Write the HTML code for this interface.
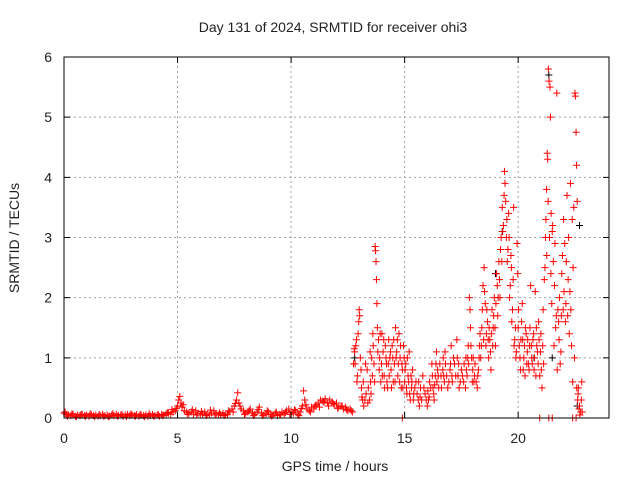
<!DOCTYPE html>
<html><head><meta charset="utf-8"><style>
body{margin:0;background:#fff;}
svg{display:block;font-family:"Liberation Sans",sans-serif;}
</style></head><body>
<svg id="chart" width="640" height="480" xmlns="http://www.w3.org/2000/svg">
<rect width="640" height="480" fill="#fff"/>
<g id="grid"></g>
<g id="marks"></g>
<g id="axes"></g>
<text x="333" y="32" font-size="14" text-anchor="middle" fill="#222">Day 131 of 2024, SRMTID for receiver ohi3</text>
<text x="335" y="471" font-size="14" text-anchor="middle" fill="#222">GPS time / hours</text>
<text transform="translate(19,238) rotate(-90)" font-size="14" text-anchor="middle" fill="#222">SRMTID / TECUs</text>
</svg>
<script>
const xTicks=[0,5,10,15,20];
const yTicks=[0,1,2,3,4,5,6];
const redTimes=[0.0,0.05,0.1,0.2,0.3,0.4,0.5,0.6,0.7,0.8,0.9,1.0,1.1,1.2,1.3,1.4,1.5,1.6,1.7,1.8,1.9,2.0,2.1,2.2,2.3,2.4,2.5,2.6,2.7,2.8,2.9,3.0,3.1,3.2,3.3,3.4,3.5,3.6,3.7,3.8,3.9,4.0,4.1,4.2,4.3,4.4,4.5,4.6,4.7,4.8,4.9,5.0,5.05,5.1,5.15,5.2,5.3,5.4,5.5,5.6,5.7,5.8,5.9,6.0,6.1,6.2,6.3,6.4,6.5,6.6,6.7,6.8,6.9,7.0,7.1,7.2,7.3,7.4,7.5,7.6,7.65,7.7,7.8,7.9,8.0,8.1,8.2,8.3,8.4,8.5,8.6,8.7,8.8,8.9,9.0,9.1,9.2,9.3,9.4,9.5,9.6,9.7,9.8,9.9,10.0,10.1,10.2,10.3,10.4,10.5,10.55,10.6,10.7,10.8,10.9,11.0,11.1,11.2,11.3,11.4,11.5,11.6,11.7,11.8,11.9,12.0,12.1,12.2,12.3,12.4,12.5,12.6,12.7,
12.8,12.82,12.85,12.9,12.95,13.0,13.02,13.05,13.1,13.15,13.2,13.3,13.35,13.4,13.45,13.5,13.55,13.6,13.65,13.7,13.72,13.74,13.76,13.78,13.8,13.85,13.9,13.95,14.0,14.05,14.1,14.15,14.2,14.25,14.3,14.35,14.4,14.45,14.5,14.55,14.6,14.65,14.7,14.75,14.8,14.85,14.9,14.95,15.0,15.05,15.1,15.15,15.2,15.25,15.3,15.35,15.4,15.5,15.6,15.65,15.7,15.8,15.9,16.0,16.05,16.1,16.2,16.25,16.3,16.35,16.4,16.45,16.5,16.6,16.7,16.75,16.8,16.9,17.0,17.05,17.1,17.2,17.3,17.35,17.4,17.5,17.6,17.7,17.75,17.8,17.85,17.88,17.9,17.95,18.0,18.05,18.1,18.2,18.25,18.3,18.35,18.4,18.45,18.5,18.55,18.6,18.65,18.7,18.75,18.8,18.85,18.9,18.95,19.0,19.05,19.1,19.15,19.2,19.25,19.3,19.35,19.4,19.42,19.45,19.5,19.55,19.6,19.65,19.7,19.75,19.8,19.85,19.9,19.95,20.0,20.05,20.1,20.15,20.2,20.25,20.3,20.35,20.4,20.45,20.5,20.55,20.6,20.65,20.7,20.75,20.8,20.85,20.9,20.95,21.0,21.05,21.1,21.15,21.2,21.25,21.28,21.3,21.33,21.36,21.4,21.42,21.45,21.5,21.55,21.6,21.65,21.7,21.75,21.8,21.85,21.9,21.95,22.0,22.05,22.1,22.15,22.2,22.25,22.3,22.35,22.4,22.45,22.5,22.52,22.55,22.57,22.6,22.62,22.65,22.7,22.75,22.8,22.72,20.95,21.35,21.5,22.4,22.55,14.9];
const redValues=[0.08,0.1,0.06,0.05,0.04,0.06,0.03,0.05,0.04,0.06,0.04,0.05,0.03,0.06,0.04,0.05,0.03,0.04,0.06,0.04,0.05,0.03,0.05,0.04,0.06,0.04,0.05,0.03,0.05,0.06,0.04,0.05,0.04,0.06,0.03,0.05,0.04,0.05,0.03,0.04,0.06,0.04,0.05,0.03,0.06,0.05,0.07,0.08,0.06,0.1,0.12,0.2,0.3,0.36,0.25,0.18,0.12,0.1,0.08,0.1,0.06,0.12,0.08,0.05,0.07,0.1,0.06,0.05,0.08,0.12,0.07,0.05,0.06,0.08,0.05,0.06,0.1,0.15,0.2,0.3,0.42,0.25,0.15,0.12,0.08,0.1,0.15,0.08,0.06,0.1,0.18,0.08,0.05,0.07,0.1,0.06,0.05,0.08,0.04,0.06,0.1,0.07,0.12,0.15,0.1,0.08,0.12,0.06,0.1,0.2,0.45,0.3,0.15,0.12,0.18,0.15,0.22,0.25,0.3,0.28,0.32,0.25,0.3,0.27,0.22,0.25,0.18,0.2,0.15,0.18,0.12,0.15,0.1,
1.1,0.9,1.2,0.6,1.4,1.8,1.7,1.0,0.5,0.3,0.2,0.4,0.8,0.5,0.3,0.6,1.0,1.4,0.9,2.85,2.78,2.6,2.3,1.9,1.5,1.3,1.0,0.6,1.4,1.1,0.7,1.2,0.9,0.5,1.3,1.0,0.8,1.2,0.6,0.9,1.5,1.1,0.7,1.4,1.0,0.5,0.8,1.2,0.6,0.9,0.4,0.7,1.1,0.3,0.5,0.8,0.4,0.6,0.3,0.2,0.5,0.7,0.4,0.2,0.3,0.6,0.9,0.5,0.3,0.7,1.1,0.8,0.5,0.7,1.0,0.6,0.9,0.5,0.8,1.2,0.6,0.9,1.3,0.7,0.5,0.8,0.6,1.0,0.7,1.2,2.0,1.8,1.5,1.0,0.8,0.6,0.9,0.5,0.8,1.2,1.0,1.5,2.2,2.5,1.9,1.4,1.6,1.0,1.3,0.8,1.8,1.5,2.0,1.2,2.4,1.7,2.6,2.0,3.0,3.5,3.2,4.1,3.9,3.6,3.3,2.8,3.0,2.2,2.5,1.8,3.5,1.3,1.0,2.9,1.5,1.2,0.8,1.6,1.3,1.0,0.7,1.4,1.1,0.9,1.2,2.2,1.0,1.3,0.8,2.1,1.5,1.1,1.6,0.7,1.4,0.5,1.8,2.3,3.0,3.8,4.4,4.3,5.8,5.6,5.5,5.0,3.4,3.1,2.6,2.2,1.5,5.4,1.8,1.3,0.9,1.7,2.7,3.3,2.9,1.9,3.7,2.3,1.4,3.9,1.2,0.6,3.5,5.4,5.35,4.75,4.2,3.6,0.3,0.5,0.2,0.1,0.6,0.05,0,0,0,0,0,0];
const redTimes2=[12.75,12.78,12.88,12.92,12.98,13.08,13.12,13.18,13.25,13.28,13.38,13.48,13.52,13.58,13.62,13.68,13.82,13.88,13.92,13.98,14.02,14.08,14.12,14.18,14.22,14.28,14.32,14.38,14.42,14.48,14.52,14.58,14.62,14.68,14.72,14.78,14.82,14.88,14.92,14.98,15.02,15.08,15.12,15.18,15.22,15.28,15.32,15.38,15.45,15.55,15.62,15.68,15.75,15.85,15.95,16.02,16.08,16.15,16.22,16.28,16.32,16.38,16.42,16.48,16.55,16.62,16.68,16.72,16.78,16.85,16.95,17.02,17.08,17.15,17.25,17.32,17.38,17.45,17.55,17.62,17.68,17.72,17.78,17.82,17.92,17.98,18.02,18.08,18.15,18.22,18.28,18.32,18.38,18.42,18.48,18.52,18.58,18.62,18.68,18.72,18.78,18.82,18.88,18.92,18.98,19.02,19.08,19.12,19.18,19.22,19.28,19.32,19.38,19.48,19.52,19.58,19.62,19.68,19.72,19.78,19.82,19.88,19.92,19.98,20.02,20.08,20.12,20.18,20.22,20.28,20.32,20.38,20.42,20.48,20.52,20.58,20.62,20.68,20.72,20.78,20.82,20.88,20.92,20.98,21.02,21.08,21.12,21.18,21.22,21.26,21.32,21.38,21.44,21.48,21.52,21.58,21.62,21.68,21.72,21.78,21.82,21.88,21.92,21.98,22.02,22.08,22.12,22.18,22.22,22.28,22.32,22.38,22.42,22.48,22.58,22.64,22.68,22.78,22.82];
const redValues2=[0.9,1.15,1.3,0.7,1.6,0.8,0.35,0.6,0.3,0.9,0.25,1.1,0.4,0.7,1.2,0.6,1.1,0.8,1.4,0.9,0.7,1.3,0.5,1.0,0.6,0.9,0.7,1.1,0.5,1.0,1.3,0.6,1.0,1.3,0.9,0.6,1.2,0.9,0.5,1.0,0.8,0.5,1.0,0.6,0.4,0.7,0.6,0.3,0.5,0.4,0.6,0.35,0.3,0.5,0.3,0.45,0.35,0.5,0.7,0.4,0.55,0.9,0.6,0.7,0.9,0.5,0.8,0.7,1.1,0.7,0.6,0.9,0.7,1.0,0.7,1.0,0.9,0.6,0.7,0.9,0.5,0.8,1.0,0.9,1.2,0.6,1.0,0.7,0.6,0.7,1.0,1.4,1.2,1.8,1.3,2.1,1.2,1.8,1.3,1.5,1.1,1.4,1.2,1.7,1.5,1.9,2.2,2.0,2.3,2.8,2.6,3.1,3.7,3.0,2.6,3.4,2.0,2.7,1.6,2.3,1.2,1.5,1.1,2.4,1.8,1.0,1.3,1.9,0.8,1.2,1.5,0.9,1.3,0.8,1.5,1.2,0.9,1.4,1.0,0.7,1.2,0.9,1.3,1.1,0.8,1.2,0.9,2.5,3.3,2.7,3.6,3.0,2.4,1.9,3.2,1.2,2.9,1.7,0.8,1.6,2.0,1.1,2.4,1.8,2.1,1.6,2.6,1.7,3.0,2.1,1.8,3.3,2.5,1.0,0.5,0.4,0.15,0.3,0.1];
const baseTimes2=[0.15,0.35,0.55,0.75,0.95,1.15,1.35,1.55,1.75,1.95,2.15,2.35,2.55,2.75,2.95,3.15,3.35,3.55,3.75,3.95,4.15,4.35,4.55,4.75,4.95,5.25,5.45,5.65,5.85,6.05,6.25,6.45,6.65,6.85,7.05,7.25,7.45,7.55,7.75,7.95,8.15,8.35,8.55,8.75,8.95,9.15,9.35,9.55,9.75,9.95,10.15,10.35,10.45,10.65,10.85,11.05,11.25,11.45,11.65,11.85,12.05,12.25,12.45,12.65];
const baseValues2=[0.03,0.07,0.02,0.06,0.03,0.07,0.02,0.06,0.03,0.02,0.07,0.03,0.06,0.02,0.07,0.03,0.06,0.02,0.07,0.03,0.06,0.04,0.09,0.14,0.16,0.22,0.06,0.14,0.05,0.11,0.04,0.13,0.05,0.09,0.04,0.12,0.1,0.24,0.2,0.06,0.12,0.04,0.14,0.04,0.12,0.03,0.1,0.05,0.09,0.06,0.14,0.04,0.16,0.22,0.1,0.2,0.18,0.26,0.2,0.24,0.16,0.2,0.14,0.12];
const blackTimes=[21.35,22.7,19.0,20.7,12.8,22.6,21.5,19.3];
const blackValues=[5.7,3.2,2.4,1.0,1.0,0.2,1.0,3.1];
const X0=64,X1=609,Y0=418,Y1=57,XMAX=24,YMAX=6;
const sx=t=>X0+t/XMAX*(X1-X0);
const sy=v=>Y0-v/YMAX*(Y0-Y1);
const NS='http://www.w3.org/2000/svg';
function mk(tag,parent,attrs){const e=document.createElementNS(NS,tag);for(const k in attrs)e.setAttribute(k,attrs[k]);parent.appendChild(e);return e;}
const grid=document.getElementById('grid'),axes=document.getElementById('axes'),marks=document.getElementById('marks');
xTicks.forEach(t=>{const x=sx(t);
 if(t>0){const g=mk('line',grid,{x1:x,x2:x,y1:Y0,y2:Y1,stroke:'#a0a0a0','stroke-dasharray':'2,3','stroke-width':1});
 
 }
 const tk=mk('path',axes,{d:`M${x},${Y0}v-6M${x},${Y1}v6`,stroke:'#000','stroke-width':1});
 
 
 const l=mk('text',axes,{x:x,y:443,'font-size':14,'text-anchor':'middle',fill:'#222'});l.textContent=t;
 
 
});
yTicks.forEach(v=>{const y=sy(v);
 if(v>0&&v<6){const g=mk('line',grid,{x1:X0,x2:X1,y1:y,y2:y,stroke:'#a0a0a0','stroke-dasharray':'2,3','stroke-width':1});
 
 }
 const tk=mk('path',axes,{d:`M${X0},${y}h6M${X1},${y}h-6`,stroke:'#000','stroke-width':1});
 
 
 const l=mk('text',axes,{x:52,y:y+5,'font-size':14,'text-anchor':'end',fill:'#222'});l.textContent=v;
 
 
});
const fr=mk('rect',axes,{x:X0,y:Y1,width:X1-X0,height:Y0-Y1,fill:'none',stroke:'#000','stroke-width':1});


function plus(t,v,c,name){const x=sx(t),y=sy(v);
 const p=mk('path',marks,{d:`M${x-3.5},${y}h7M${x},${y-3.5}v7`,stroke:c,'stroke-width':1});
 
 }
blackTimes.forEach((t,i)=>plus(t,blackValues[i],'#000','black-point'));
redTimes.forEach((t,i)=>plus(t,redValues[i],'#ff0000','red-point'));
redTimes2.forEach((t,i)=>plus(t,redValues2[i],'#ff0000','red-point'));
baseTimes2.forEach((t,i)=>plus(t,baseValues2[i],'#ff0000','red-point'));
</script>
</body></html>
